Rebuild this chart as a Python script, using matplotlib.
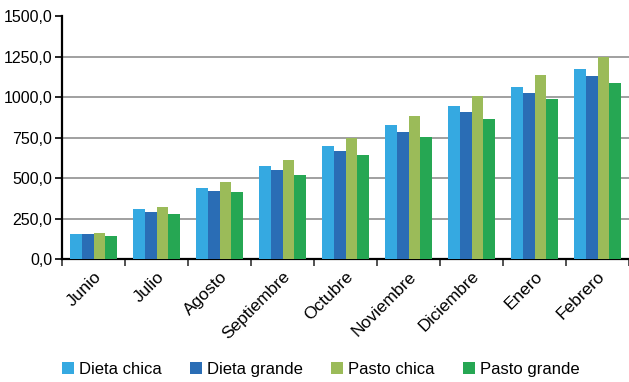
import matplotlib
matplotlib.use("Agg")
import matplotlib.pyplot as plt
import numpy as np
from matplotlib.ticker import FuncFormatter, FixedLocator

plt.rcParams['font.family'] = ['Liberation Sans', 'DejaVu Sans']

months = ["Junio", "Julio", "Agosto", "Septiembre", "Octubre", "Noviembre",
          "Diciembre", "Enero", "Febrero"]
dieta_chica = [155, 309, 438, 574, 697, 826, 943, 1059, 1176]
dieta_grande = [153, 291, 420, 549, 666, 783, 906, 1023, 1127]
pasto_chica = [160, 322, 475, 611, 746, 881, 1004, 1139, 1250]
pasto_grande = [142, 279, 414, 518, 641, 752, 863, 986, 1084]
series_names = ["Dieta chica", "Dieta grande", "Pasto chica", "Pasto grande"]
colors = ["#35A9E1", "#2A6DB5", "#9BBB59", "#26A753"]

fig = plt.figure(figsize=(6.29, 3.82), dpi=100)
ax = fig.add_axes([0.0986, 0.322, 0.9014, 0.636])

x = np.arange(len(months))
bw = 0.185
allv = [dieta_chica, dieta_grande, pasto_chica, pasto_grande]
for i, (vals, c, n) in enumerate(zip(allv, colors, series_names)):
    ax.bar(x + (i - 1.5) * bw, vals, bw, color=c, label=n, zorder=3)

ax.set_xlim(-0.5, len(months) - 0.5)
ax.set_ylim(0, 1500)
ax.set_yticks(np.arange(0, 1501, 250))
ax.yaxis.set_major_formatter(FuncFormatter(lambda v, p: f"{v:.1f}".replace('.', ',')))
for yv in np.arange(250, 1251, 250):
    ax.axhline(yv, color="#999999", lw=1.3, zorder=1)

ax.set_xticks(x)
ax.set_xticklabels(months, rotation=45, ha='right', rotation_mode='anchor', fontsize=12.5)
ax.xaxis.set_minor_locator(FixedLocator(np.arange(-0.5, len(months), 1)))
ax.tick_params(axis='x', which='major', length=0, pad=7)
ax.tick_params(axis='x', which='minor', length=5, width=1.2, color='#333333')
ax.tick_params(axis='y', length=5, width=1.2, labelsize=11.5, pad=2)

for s in ['top', 'right']:
    ax.spines[s].set_visible(False)
ax.spines['left'].set_linewidth(1.6)
ax.spines['bottom'].set_linewidth(1.6)

fig.legend(loc='lower center', bbox_to_anchor=(0.51, -0.025), ncol=4, frameon=False,
           fontsize=12, handlelength=0.72, handleheight=0.72, handletextpad=0.3,
           columnspacing=1.7)

fig.savefig("out.png", dpi=100)
